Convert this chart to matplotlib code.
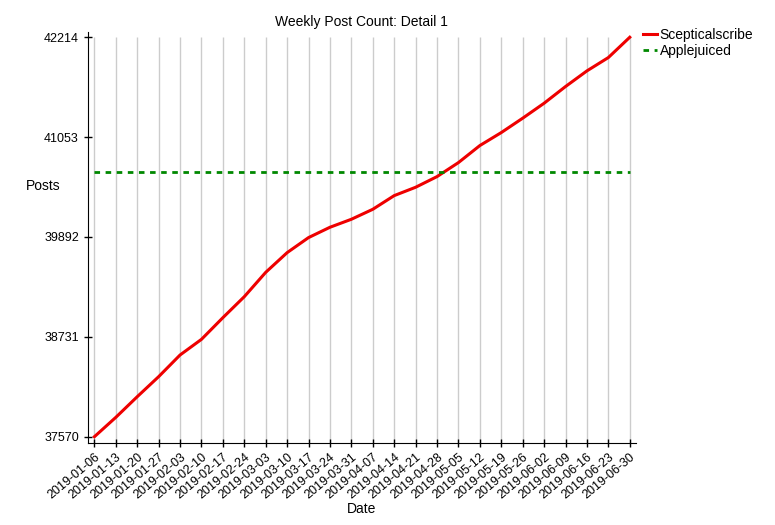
import matplotlib
matplotlib.use("Agg")
import matplotlib.pyplot as plt
import pandas as pd

plt.rcParams['font.family'] = ['Liberation Sans', 'DejaVu Sans']

dates = pd.date_range("2019-01-06", "2019-06-30", freq="7D")
scepticalscribe = [37570, 37795, 38035, 38268, 38520, 38702, 38954, 39198, 39481,
                   39710, 39885, 40005, 40098, 40214, 40373, 40470, 40594, 40757,
                   40955, 41106, 41273, 41447, 41641, 41823, 41978, 42214]
applejuiced = [40644] * len(dates)
yticks = [37570, 38731, 39892, 41053, 42214]

fig = plt.figure(figsize=(7.75, 5.25), dpi=100)
ax = fig.add_axes([0.1135, 0.1562, 0.707, 0.783])

ymin = 37497
ax.vlines(dates, ymin, 42214, color="#cccccc", linewidth=1, zorder=0)

ax.plot(dates, scepticalscribe, color="#ee0000", linewidth=2.2, label="Scepticalscribe")
ax.plot(dates, applejuiced, color="#008800", linewidth=2, linestyle=(0, (2, 2)),
        label="Applejuiced")

ax.set_xlim(dates[0] - pd.Timedelta(days=2.1), dates[-1] + pd.Timedelta(days=2))
ax.set_ylim(ymin, 42276)
ax.set_yticks(yticks)
ax.set_yticklabels([str(v) for v in yticks])
ax.set_xticks(dates)
ax.set_xticklabels([d.strftime("%Y-%m-%d") for d in dates], rotation=40, ha="right",
                   rotation_mode="anchor")

for s in ["top", "right"]:
    ax.spines[s].set_visible(False)
ax.tick_params(direction="inout", length=6, width=1, labelsize=9)
ax.tick_params(axis="x", pad=3)

ax.set_title("Weekly Post Count: Detail 1", fontsize=10, pad=4)
ax.set_xlabel("Date", fontsize=10)
ax.xaxis.set_label_coords(0.5, -0.143)
ax.set_ylabel("Posts", fontsize=10, rotation=0, ha="center", va="center")
ax.yaxis.set_label_coords(-0.082, 0.625)

ax.legend(loc="upper left", bbox_to_anchor=(643 / 775, 1 - 28 / 525),
          bbox_transform=fig.transFigure, frameon=False, fontsize=10,
          handlelength=1.0, handletextpad=0.2, labelspacing=0.15,
          borderpad=0, borderaxespad=0)

fig.savefig("out.png", dpi=100)
